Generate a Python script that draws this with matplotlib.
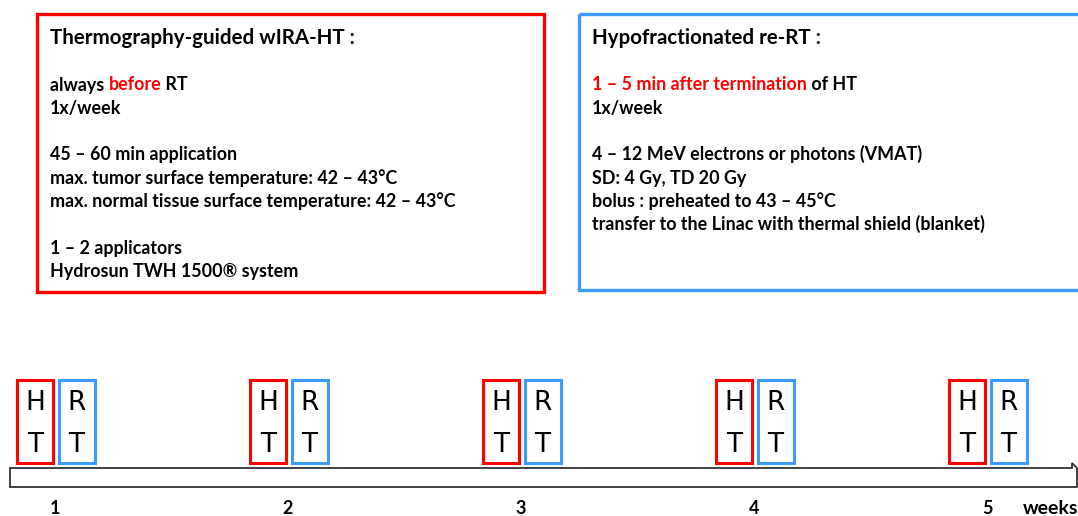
import matplotlib
matplotlib.use("Agg")
import matplotlib.pyplot as plt
from matplotlib.patches import Rectangle, Polygon

plt.rcParams['font.family'] = ['Lato', 'DejaVu Sans']

RED = '#FF0000'
BLUE = '#3D9BFF'

# ---- data ----
ht_title = "Thermography-guided wIRA-HT :"
ht_lines = [
    [("always ", 'k'), ("before", 'r'), (" RT", 'k')],
    [("1x/week", 'k')],
    None,
    [("45 \u2013 60 min application", 'k')],
    [("max. tumor surface temperature: 42 \u2013 43\u00b0C", 'k')],
    [("max. normal tissue surface temperature: 42 \u2013 43\u00b0C", 'k')],
    None,
    [("1 \u2013 2 applicators", 'k')],
    [("Hydrosun TWH 1500\u00ae system", 'k')],
]
rt_title = "Hypofractionated re-RT :"
rt_lines = [
    [("1 \u2013 5 min after termination", 'r'), (" of HT", 'k')],
    [("1x/week", 'k')],
    None,
    [("4 \u2013 12 MeV electrons or photons (VMAT)", 'k')],
    [("SD: 4 Gy, TD 20 Gy", 'k')],
    [("bolus : preheated to 43 \u2013 45\u00b0C", 'k')],
    [("transfer to the Linac with thermal shield (blanket)", 'k')],
]
weeks = [1, 2, 3, 4, 5]
week_labels = ["1", "2", "3", "4", "5"]
axis_label = "weeks"

fig = plt.figure(figsize=(10.78, 5.16), dpi=100)
ax = fig.add_axes([0, 0, 1, 1])
ax.set_xlim(0, 1078)
ax.set_ylim(516, 0)
ax.axis('off')

# timeline axes in week units
ax2 = fig.add_axes([0, 0, 1, 1])
ax2.set_xlim(1 - 55 / 233, 1 + 1023 / 233)
ax2.set_ylim(516, 0)
ax2.axis('off')
ax2.patch.set_alpha(0)

# top boxes
ax.add_patch(Rectangle((37, 14), 507, 278, fill=False, ec=RED, lw=2.4))
ax.add_patch(Rectangle((579, 14), 520, 276, fill=False, ec=BLUE, lw=2.4, clip_on=False))

fs = 12.9
renderer = fig.canvas.get_renderer()


def draw_block(x0, title, lines):
    ax.text(x0, 44, title, fontsize=14.8, fontweight='bold', va='baseline', ha='left')
    y = 90.5
    for ln in lines:
        if ln is not None:
            x = x0
            for seg, c in ln:
                t = ax.text(x, y, seg, fontsize=fs, fontweight='bold', va='baseline', ha='left',
                            color=(RED if c == 'r' else 'black'))
                bb = t.get_window_extent(renderer)
                inv = ax.transData.inverted()
                x = inv.transform((bb.x1, bb.y0))[0]
        y += 23.3


draw_block(50, ht_title, ht_lines)
draw_block(592, rt_title, rt_lines)

# timeline bar with arrow
bar = Polygon([(10, 468), (1072, 468), (1072, 463), (1077, 468), (1077, 487), (10, 487)],
              closed=True, fill=False, ec='#333333', lw=1.3, transform=ax.transData)
ax.add_patch(bar)

bw = 36 / 233
for w, lab in zip(weeks, week_labels):
    for off, col, letters in [(-0.085, RED, "HT"), (0.093, BLUE, "RT")]:
        cx = w + off
        ax2.add_patch(Rectangle((cx - bw / 2, 380), bw, 83, fill=False, ec=col, lw=2.2))
        ax2.text(cx, 403, letters[0], fontsize=19, ha='center', va='center',
                 family=['DejaVu Sans'])
        ax2.text(cx, 445, letters[1], fontsize=19, ha='center', va='center',
                 family=['DejaVu Sans'])
    ax2.text(w, 508, lab, fontsize=13, fontweight='bold', ha='center', va='center')

ax2.text(5 + 36 / 233, 508, axis_label, fontsize=14, fontweight='bold', ha='left', va='center')

fig.savefig('out.png', dpi=100)
